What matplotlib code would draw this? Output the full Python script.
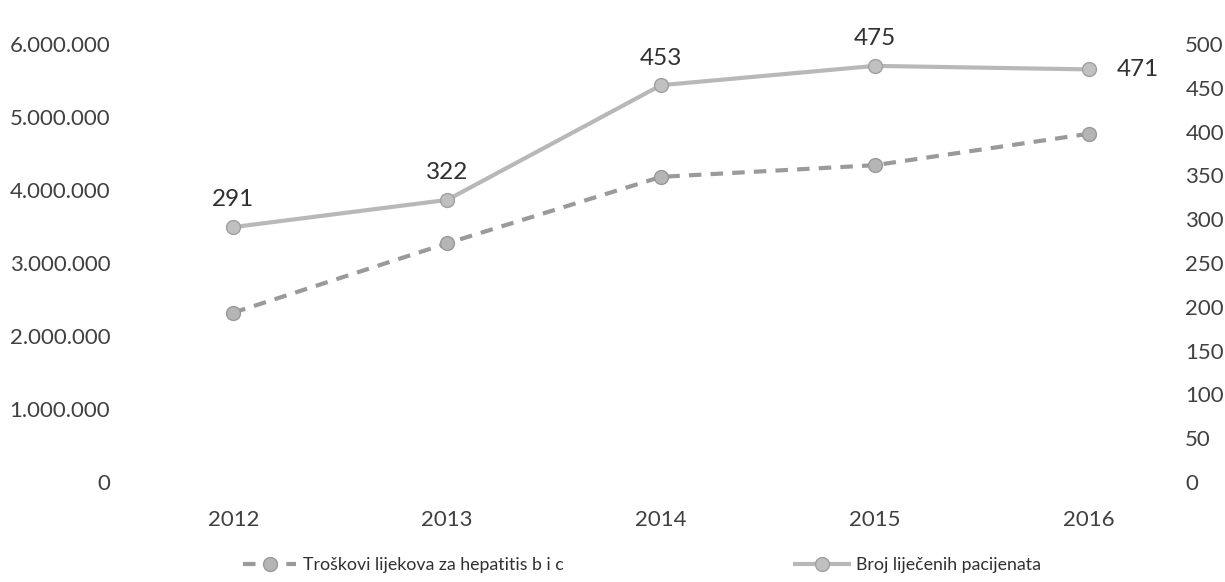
import matplotlib.pyplot as plt
from matplotlib.ticker import FuncFormatter

years = ["2012", "2013", "2014", "2015", "2016"]
troskovi = [2320000, 3270000, 4180000, 4340000, 4770000]
pacijenti = [291, 322, 453, 475, 471]

plt.rcParams['font.family'] = ['Lato', 'DejaVu Sans']

fig = plt.figure(figsize=(12.25, 5.82), dpi=100)
ax = fig.add_axes([120 / 1225, 100 / 582, 1050 / 1225, 438 / 582])
ax2 = ax.twinx()

x = list(range(len(years)))
l1, = ax.plot(x, troskovi, color='#9a9a9a', lw=3, ls=(0, (3, 2.2)),
              marker='o', ms=10, mfc='#b5b5b5', mec='#999999', label='Troškovi lijekova za hepatitis b i c')
l2, = ax2.plot(x, pacijenti, color='#b8b8b8', lw=3,
               marker='o', ms=10, mfc='#c0c0c0', mec='#a0a0a0', label='Broj liječenih pacijenata')

for i, v in enumerate(pacijenti):
    if i == len(pacijenti) - 1:
        ax2.annotate(str(v), (i, v), xytext=(20, 0), textcoords='offset points',
                     ha='left', va='center', fontsize=17.5, color='#303030')
    else:
        ax2.annotate(str(v), (i, v), xytext=(0, 12), textcoords='offset points',
                     ha='center', va='bottom', fontsize=17.5, color='#303030')

ax.set_xlim(-0.53, 4.38)
ax.set_ylim(0, 6000000)
ax2.set_ylim(0, 500)
ax.set_yticks(range(0, 6000001, 1000000))
ax2.set_yticks(range(0, 501, 50))
ax.yaxis.set_major_formatter(FuncFormatter(lambda v, p: f"{int(v):,}".replace(",", ".")))
ax.set_xticks(x)
ax.set_xticklabels(years)

for a in (ax, ax2):
    for s in a.spines.values():
        s.set_visible(False)
    a.tick_params(length=0, labelsize=16, labelcolor='#404040')
ax.tick_params(axis='y', pad=7)
ax2.tick_params(axis='y', pad=11)
ax.tick_params(axis='x', pad=20)

fig.legend(handles=[l1, l2], loc='center', bbox_to_anchor=(0.524, 17 / 582), ncol=2,
           frameon=False, fontsize=12.8, handlelength=3, handletextpad=0.4,
           columnspacing=13, labelcolor='#303030')

fig.savefig('out.png', dpi=100)
